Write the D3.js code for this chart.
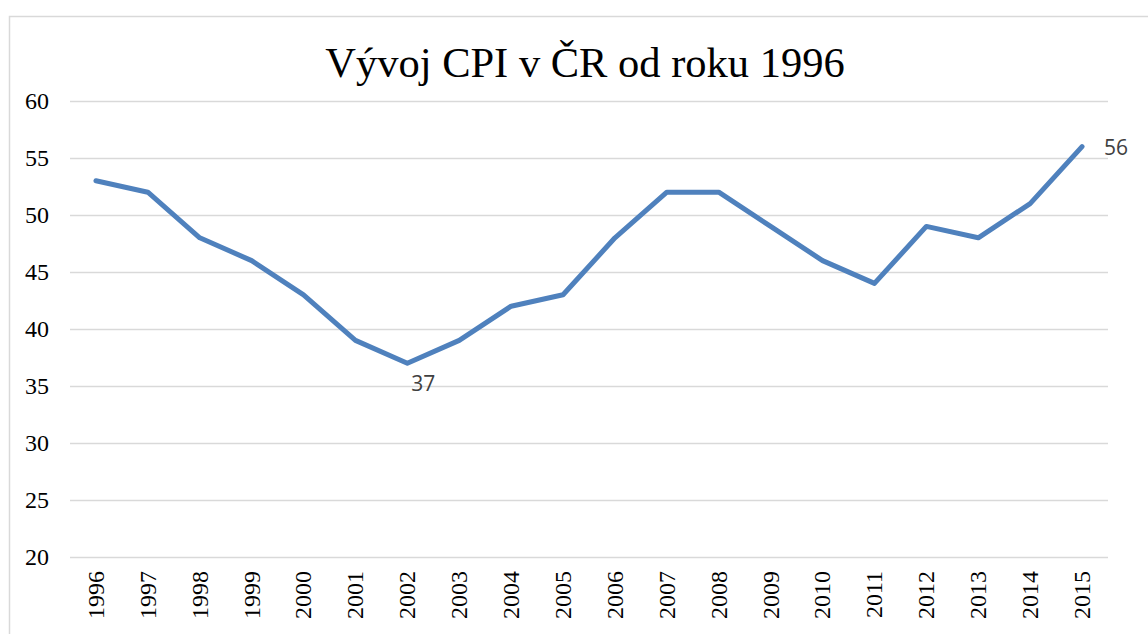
<!DOCTYPE html>
<html>
<head>
<meta charset="utf-8">
<script src="https://cdn.jsdelivr.net/npm/d3@7"></script>
<style>
  body { margin: 0; background: #fff; }
  .grid line { stroke: #d9d9d9; stroke-width: 1.5; }
  .grid path { display: none; }
</style>
</head>
<body>
<script>
  const years = ["1996", "1997", "1998", "1999", "2000", "2001", "2002", "2003", "2004", "2005",
                 "2006", "2007", "2008", "2009", "2010", "2011", "2012", "2013", "2014", "2015"];
  const cpi = [53, 52, 48, 46, 43, 39, 37, 39, 42, 43, 48, 52, 52, 49, 46, 44, 49, 48, 51, 56];
  const yTicks = [20, 25, 30, 35, 40, 45, 50, 55, 60];
  const labelled = ["2002", "2015"];

  const w = 1148;
  const h = 634;
  const plotL = 70, plotR = 1108, plotT = 101, plotB = 557;

  const svg = d3.select("body")
                .append("svg")
                .attr("width", w)
                .attr("height", h);

  // chart frame
  svg.append("rect")
     .attr("x", 9.5)
     .attr("y", 16.5)
     .attr("width", 1160)
     .attr("height", 640)
     .attr("fill", "none")
     .attr("stroke", "#d9d9d9")
     .attr("stroke-width", 1.5);

  const x = d3.scaleBand().domain(years).range([plotL, plotR]);
  const y = d3.scaleLinear().domain([20, 60]).range([plotB, plotT]);

  // gridlines
  svg.append("g")
     .attr("class", "grid")
     .attr("transform", `translate(${plotL},0)`)
     .call(d3.axisLeft(y).tickValues(yTicks).tickSize(-(plotR - plotL)).tickFormat(""));

  // y labels
  svg.selectAll("text.ylab")
     .data(yTicks)
     .enter()
     .append("text")
     .attr("class", "ylab")
     .attr("x", 49)
     .attr("y", d => y(d))
     .attr("dy", "0.33em")
     .attr("text-anchor", "end")
     .attr("font-family", "'Liberation Serif', 'Times New Roman', serif")
     .attr("font-size", "24px")
     .attr("fill", "#000")
     .text(d => d);

  // x labels, rotated
  svg.selectAll("text.xlab")
     .data(years)
     .enter()
     .append("text")
     .attr("class", "xlab")
     .attr("transform", d => `translate(${x(d) + x.bandwidth() / 2},571) rotate(-90)`)
     .attr("dy", "0.33em")
     .attr("text-anchor", "end")
     .attr("font-family", "'Liberation Serif', 'Times New Roman', serif")
     .attr("font-size", "24px")
     .attr("fill", "#000")
     .text(d => d);

  const px = d => x(d) + x.bandwidth() / 2;

  const line = d3.line()
                 .x((d, i) => px(years[i]))
                 .y(d => y(d));

  svg.append("path")
     .datum(cpi)
     .attr("d", line)
     .attr("fill", "none")
     .attr("stroke", "#4f81bd")
     .attr("stroke-width", 5)
     .attr("stroke-linejoin", "round")
     .attr("stroke-linecap", "round");

  // data labels
  const lab = labelled.map(yr => ({ yr: yr, v: cpi[years.indexOf(yr)] }));
  svg.selectAll("text.dlab")
     .data(lab)
     .enter()
     .append("text")
     .attr("class", "dlab")
     .attr("x", d => d.yr === "2015" ? px(d.yr) + 22 : px(d.yr) + 16)
     .attr("y", d => d.yr === "2015" ? y(d.v) + 1 : y(d.v) + 20)
     .attr("dy", "0.35em")
     .attr("text-anchor", d => d.yr === "2015" ? "start" : "middle")
     .attr("font-family", "'Open Sans', 'Liberation Sans', sans-serif")
     .attr("font-size", "21px")
     .attr("fill", "#404040")
     .text(d => d.v);

  // title
  svg.append("text")
     .attr("x", 585)
     .attr("y", 77)
     .attr("text-anchor", "middle")
     .attr("font-family", "'Liberation Serif', 'Times New Roman', serif")
     .attr("font-size", "42.5px")
     .attr("fill", "#000")
     .text("Vývoj CPI v ČR od roku 1996");
</script>
</body>
</html>
